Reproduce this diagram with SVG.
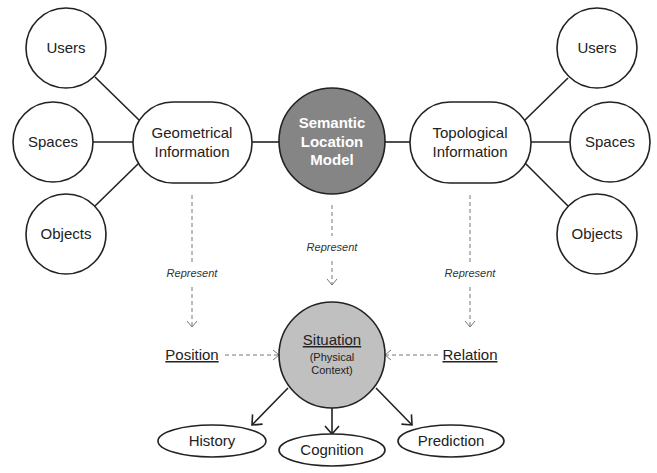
<svg xmlns="http://www.w3.org/2000/svg" width="657" height="473" viewBox="0 0 657 473">
<style>
.n{fill:#fff;stroke:#222;stroke-width:1.6}
.t{font-family:"Liberation Sans",Arial,sans-serif;font-size:15px;fill:#222;text-anchor:middle}
.s{font-family:"Liberation Sans",Arial,sans-serif;font-size:11px;fill:#222;text-anchor:middle}
.r{font-family:"Liberation Sans",Arial,sans-serif;font-size:11px;font-style:italic;fill:#333;text-anchor:middle}
.l{stroke:#222;stroke-width:1.6;fill:none}
.d{stroke:#777;stroke-width:1;stroke-dasharray:4,3;fill:none}
.w{fill:#fff;font-weight:bold}
</style>
<defs>
<marker id="oa" markerWidth="12" markerHeight="12" refX="10" refY="6" orient="auto" markerUnits="userSpaceOnUse">
<path d="M4,1 L10,6 L4,11" fill="none" stroke="#777" stroke-width="1"/>
</marker>
<marker id="sa" markerWidth="16" markerHeight="16" refX="14" refY="8" orient="auto" markerUnits="userSpaceOnUse">
<path d="M6,1 L14,8 L6,15" fill="none" stroke="#222" stroke-width="1.6"/>
</marker>
</defs>
<rect width="657" height="473" fill="#fff"/>
<g id="connectors">
<line class="l" x1="95" y1="77" x2="139" y2="120"/>
<line class="l" x1="93" y1="142" x2="133" y2="142"/>
<line class="l" x1="95" y1="206" x2="139" y2="163"/>
<line class="l" x1="252" y1="142" x2="279" y2="142"/>
<line class="l" x1="385" y1="142" x2="410" y2="142"/>
<line class="l" x1="525" y1="120" x2="568" y2="78"/>
<line class="l" x1="531" y1="142" x2="570" y2="142"/>
<line class="l" x1="525" y1="163" x2="568" y2="206"/>
<line class="d" x1="192" y1="195" x2="192" y2="262"/>
<line class="d" x1="192" y1="287" x2="192" y2="327" marker-end="url(#oa)"/>
<line class="d" x1="332" y1="205" x2="332" y2="236"/>
<line class="d" x1="332" y1="261" x2="332" y2="285" marker-end="url(#oa)"/>
<line class="d" x1="470" y1="195" x2="470" y2="262"/>
<line class="d" x1="470" y1="287" x2="470" y2="327" marker-end="url(#oa)"/>
<line class="d" x1="225" y1="355" x2="279" y2="355" marker-end="url(#oa)"/>
<line class="d" x1="438" y1="355" x2="385" y2="355" marker-end="url(#oa)"/>
<line class="l" x1="288" y1="388" x2="252" y2="425" marker-end="url(#sa)"/>
<line class="l" x1="332" y1="408" x2="332" y2="434" marker-end="url(#sa)"/>
<line class="l" x1="376" y1="388" x2="412" y2="425" marker-end="url(#sa)"/>
<text class="r" x="192" y="277">Represent</text>
<text class="r" x="332" y="251">Represent</text>
<text class="r" x="470" y="277">Represent</text>
</g>
<g id="users-left"><circle class="n" cx="66" cy="48" r="40"/><text class="t" x="66" y="53">Users</text></g>
<g id="spaces-left"><circle class="n" cx="53" cy="142" r="40"/><text class="t" x="53" y="147">Spaces</text></g>
<g id="objects-left"><circle class="n" cx="66" cy="234" r="40"/><text class="t" x="66" y="239">Objects</text></g>
<g id="geometrical"><rect class="n" x="133" y="102" width="119" height="81" rx="40" ry="40"/><text class="t" x="192" y="138">Geometrical</text><text class="t" x="192" y="157">Information</text></g>
<g id="semantic"><circle cx="332" cy="141" r="53" fill="#858585" stroke="#222" stroke-width="1.6"/><text class="t w" x="332" y="128">Semantic</text><text class="t w" x="332" y="147">Location</text><text class="t w" x="332" y="165">Model</text></g>
<g id="topological"><rect class="n" x="410" y="102" width="121" height="81" rx="40" ry="40"/><text class="t" x="470" y="138">Topological</text><text class="t" x="470" y="157">Information</text></g>
<g id="users-right"><circle class="n" cx="597" cy="48" r="40"/><text class="t" x="597" y="53">Users</text></g>
<g id="spaces-right"><circle class="n" cx="610" cy="142" r="40"/><text class="t" x="610" y="147">Spaces</text></g>
<g id="objects-right"><circle class="n" cx="597" cy="234" r="40"/><text class="t" x="597" y="239">Objects</text></g>
<g id="position"><text class="t" x="192" y="360" text-decoration="underline">Position</text></g>
<g id="relation"><text class="t" x="470" y="360" text-decoration="underline">Relation</text></g>
<g id="situation"><circle cx="332" cy="355" r="53" fill="#c0c0c0" stroke="#222" stroke-width="1.6"/><text class="t" x="332" y="345" text-decoration="underline">Situation</text><text class="s" x="332" y="361">(Physical</text><text class="s" x="332" y="374">Context)</text></g>
<g id="history"><ellipse class="n" cx="212" cy="441" rx="54" ry="16"/><text class="t" x="212" y="446">History</text></g>
<g id="cognition"><ellipse class="n" cx="332" cy="450" rx="53" ry="16"/><text class="t" x="332" y="455">Cognition</text></g>
<g id="prediction"><ellipse class="n" cx="451" cy="441" rx="53" ry="16"/><text class="t" x="451" y="446">Prediction</text></g>
</svg>
